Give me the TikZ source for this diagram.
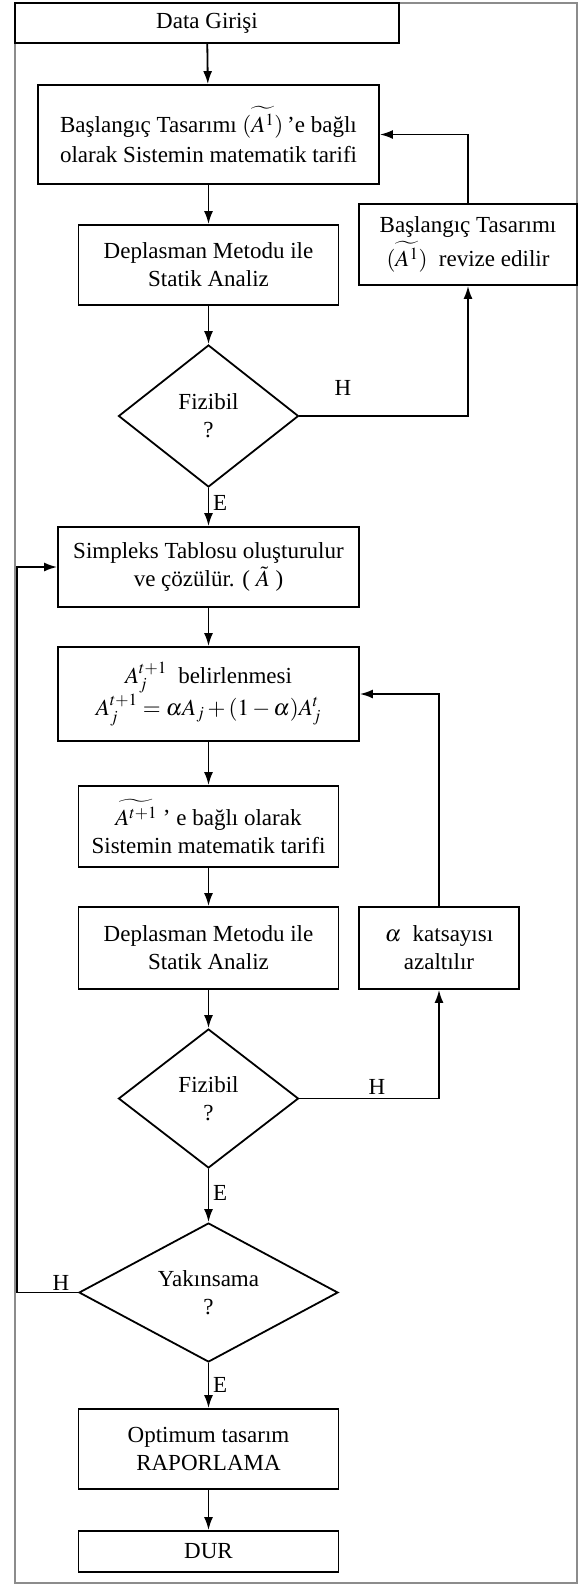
\documentclass[tikz,border=0pt]{standalone}
\usepackage{mathptmx}
\usepackage{fontspec}
\setmainfont{Liberation Serif}
\usepackage{tikz}
\usetikzlibrary{shapes.geometric, arrows.meta, positioning, calc}
\definecolor{framegray}{RGB}{140,140,140}
\newcommand{\flowfont}{\fontsize{23}{28}\selectfont}

\begin{document}
\begin{tikzpicture}[x=1pt, y=-1pt,
  box/.style={draw, line width=1.8pt, inner sep=0pt, align=center, font=\flowfont},
  decision/.style={draw, diamond, line width=1.8pt, inner sep=0pt, aspect=2, align=center, font=\flowfont},
  flow/.style={line width=1.8pt, -{Latex[length=13pt,width=9pt]}},
  lbl/.style={inner sep=0pt, font=\flowfont}]
\useasboundingbox (0,0) rectangle (579,1585);

% Outer frame
\draw[framegray, line width=1.2pt] (15,3) rectangle (577,1583);

% Main column
\node[box, minimum width=384, minimum height=40] (data) at (207,23) {Data Girişi};
\node[box, minimum width=341, minimum height=99] (init) at (208.5,134.5)
  {Başlangıç Tasarımı $(\widetilde{A^1})$\,’e bağlı\\[2pt]olarak Sistemin matematik tarifi};
\node[box, minimum width=260, minimum height=80] (stat1) at (208.5,265)
  {Deplasman Metodu ile\\Statik Analiz};
\node[decision, minimum width=180, minimum height=142] (fiz1) at (208.5,416) {Fizibil\\?};
\node[box, minimum width=301, minimum height=80] (simplex) at (208.5,567)
  {Simpleks Tablosu oluşturulur\\ve çözülür. ( $\tilde{A}$ )};
\node[box, minimum width=301, minimum height=94] (update) at (208.5,694)
  {$A_j^{t+1}$ \ belirlenmesi\\$A_j^{t+1}=\alpha A_j+(1-\alpha)A_j^t$};
\node[box, minimum width=260, minimum height=81] (model) at (208.5,826.5)
  {$\widetilde{A^{t+1}}$ ’ e bağlı olarak\\Sistemin matematik tarifi};
\node[box, minimum width=260, minimum height=82] (stat2) at (208.5,948)
  {Deplasman Metodu ile\\Statik Analiz};
\node[decision, minimum width=180, minimum height=139] (fiz2) at (208.5,1098.5) {Fizibil\\?};
\node[decision, minimum width=259, minimum height=139] (conv) at (208.5,1292.5) {Yakınsama\\?};
\node[box, minimum width=260, minimum height=80] (report) at (208.5,1449)
  {Optimum tasarım\\RAPORLAMA};
\node[box, minimum width=260, minimum height=41] (stop) at (208.5,1551.5) {DUR};

% Side boxes
\node[box, minimum width=218, minimum height=81] (revise) at (468,244.5)
  {Başlangıç Tasarımı\\[2pt]$(\widetilde{A^1})$ \ revize edilir};
\node[box, minimum width=160, minimum height=82] (alpha) at (439,948)
  {$\alpha$ \ katsayısı\\azaltılır};
\coordinate (back) at (17,1292.5);

% Connectors
\draw[flow] (data) -- (init);
\draw[flow] (init) -- (stat1);
\draw[flow] (stat1) -- (fiz1);
\draw[flow] (fiz1.east) -| (revise.south);
\draw[flow] (revise.north) |- (init.east);
\draw[flow] (fiz1) -- (simplex);
\draw[flow] (simplex) -- (update);
\draw[flow] (update) -- (model);
\draw[flow] (model) -- (stat2);
\draw[flow] (stat2) -- (fiz2);
\draw[flow] (fiz2.east) -| (alpha.south);
\draw[flow] (alpha.north) |- (update.east);
\draw[flow] (fiz2) -- (conv);
\draw[flow] (conv.west) -- (back) |- (simplex.west);
\draw[flow] (conv) -- (report);
\draw[flow] (report) -- (stop);

% Yes / no labels
\node[lbl] (h1) at (343,388) {H};
\node[lbl] (h2) at (377,1087) {H};
\node[lbl] (h3) at (61,1283) {H};
\node[lbl, anchor=west] (e1) at (213,503) {E};
\node[lbl, anchor=west] (e2) at (213,1193) {E};
\node[lbl, anchor=west] (e3) at (213,1385) {E};
\end{tikzpicture}
\end{document}
